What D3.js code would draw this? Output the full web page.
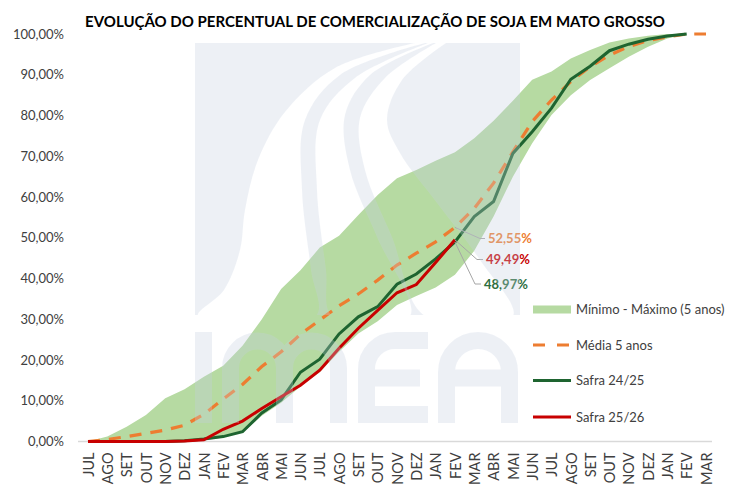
<!DOCTYPE html>
<html>
<head>
<meta charset="utf-8">
<script src="https://cdn.jsdelivr.net/npm/d3@7"></script>
<style>
  body { margin: 0; background: #fff; }
  svg { font-family: Lato, "Open Sans", sans-serif; }
</style>
</head>
<body>
<div id="chart-area"></div>
<script>
const months = ["JUL","AGO","SET","OUT","NOV","DEZ","JAN","FEV","MAR","ABR","MAI","JUN",
                "JUL","AGO","SET","OUT","NOV","DEZ","JAN","FEV","MAR","ABR","MAI","JUN",
                "JUL","AGO","SET","OUT","NOV","DEZ","JAN","FEV","MAR"];
const yTicks = [0, 10, 20, 30, 40, 50, 60, 70, 80, 90, 100];

// faixa minimo - maximo (5 anos)
const minVals = [0,0,0,0,0,0.1,0.3,1.0,2.2,6.3,9.5,13.5,17.0,22.0,26.5,29.5,33.5,35.7,37.8,40.9,
                 46.8,55.2,65.0,73.2,80.1,85.0,88.7,91.6,94.4,96.9,98.9,100];
const maxVals = [0,1.2,3.6,6.5,10.6,12.8,15.9,18.6,23.5,30.0,37.4,42.0,47.6,50.5,55.6,60.5,64.6,66.6,68.9,71.0,
                 74.4,78.7,83.6,88.8,90.8,94.0,96.1,97.9,98.9,99.6,100,100];
const media5 = [0,0.5,1.2,2.0,2.8,4.0,6.7,10.4,14.0,18.4,22.0,26.3,29.8,33.3,36.2,39.6,43.3,46.2,49.0,52.55,
                57.2,63.4,71.1,78.5,83.8,88.3,92.0,94.8,96.9,98.4,99.3,100,100];
const safra2425 = [0,0,0,0,0,0.2,0.6,1.2,2.4,7.0,10.2,17.0,20.2,26.4,30.6,33.1,38.6,41.1,44.8,48.97,
                   55.2,58.9,70.7,76.0,81.8,88.9,92.1,95.9,97.5,98.7,99.5,100];
const safra2526 = [0,0,0,0,0,0.1,0.4,3.0,5.0,8.1,11.0,13.8,17.5,22.9,27.8,32.2,36.5,38.5,43.9,49.49];

const legendNames = ["Mínimo - Máximo (5 anos)", "Média 5 anos", "Safra 24/25", "Safra 25/26"];

const cGreen = "#1e6430", cRed = "#c80000", cOrange = "#ed7d31", cBand = "#b6daa2";

const svg = d3.select("#chart-area").append("svg")
    .attr("width", 729)
    .attr("height", 485);

const x = d3.scalePoint().domain(d3.range(months.length)).range([88, 706]);
const y = d3.scaleLinear().domain([0, 100]).range([441.5, 34]);

// titulo
svg.append("text")
    .attr("x", 375).attr("y", 26.5)
    .attr("text-anchor", "middle")
    .style("font-size", "15px").style("font-weight", "bold").style("fill", "#000")
    .text("EVOLUÇÃO DO PERCENTUAL DE COMERCIALIZAÇÃO DE SOJA EM MATO GROSSO");

// eixo y
const yAxis = svg.append("g")
    .attr("transform", "translate(70,0)")
    .call(d3.axisLeft(y).tickValues(yTicks).tickSize(0).tickPadding(6)
        .tickFormat(d => d.toFixed(2).replace(".", ",") + "%"));
yAxis.select(".domain").remove();
yAxis.selectAll("text").style("font-size", "13px").style("fill", "#404040").style("font-family", "Lato");

// eixo x
const xAxis = svg.append("g")
    .attr("transform", `translate(0,${y(0)})`)
    .call(d3.axisBottom(x).tickSize(0).tickFormat(i => months[i]));
xAxis.select(".domain").remove();
xAxis.selectAll("text")
    .attr("y", 0).attr("x", -11).attr("dy", "0.36em")
    .attr("transform", "rotate(-90)")
    .style("text-anchor", "end")
    .style("font-size", "14.5px").style("fill", "#404040").style("font-family", "Lato");

svg.append("line")
    .attr("x1", 78).attr("x2", 712)
    .attr("y1", y(0)).attr("y2", y(0))
    .attr("stroke", "#d9d9d9").attr("stroke-width", 1.5);

// faixa
const area = d3.area()
    .x((d, i) => x(i))
    .y0((d, i) => y(minVals[i]))
    .y1(d => y(d));
svg.append("path")
    .datum(maxVals)
    .attr("d", area)
    .attr("fill", cBand);

const line = d3.line().x((d, i) => x(i)).y(d => y(d));

svg.append("path").datum(media5).attr("d", line)
    .attr("fill", "none").attr("stroke", cOrange).attr("stroke-width", 3.2)
    .attr("stroke-dasharray", "12,9");
svg.append("path").datum(safra2425).attr("d", line)
    .attr("fill", "none").attr("stroke", cGreen).attr("stroke-width", 3);
svg.append("path").datum(safra2526).attr("d", line)
    .attr("fill", "none").attr("stroke", cRed).attr("stroke-width", 3);

// rotulos de dados
const last = safra2526.length - 1;
const labels = [
  { v: media5[last],    color: cOrange, lx: 488, ly: 238.5, bend: [480, 238.5] },
  { v: safra2526[last], color: cRed,    lx: 486, ly: 259.5, bend: [477, 259.5] },
  { v: safra2425[last], color: "#2d6e3e", lx: 484, ly: 284,   bend: [475, 284] }
];
labels.forEach(l => {
  svg.append("polyline")
    .attr("points", `${x(last)},${y(l.v)} ${l.bend[0]},${l.bend[1]} ${l.lx - 3},${l.ly}`)
    .attr("fill", "none").attr("stroke", "#a6a6a6").attr("stroke-width", 1);
  svg.append("text")
    .attr("x", l.lx).attr("y", l.ly).attr("dy", "0.35em")
    .style("font-size", "13px").style("font-weight", "bold").style("fill", l.color)
    .text(l.v.toFixed(2).replace(".", ",") + "%");
});

// legenda
const legY = [309.5, 345, 380.5, 417];
const leg = svg.append("g");
leg.append("rect").attr("x", 533).attr("y", legY[0] - 4).attr("width", 38).attr("height", 8).attr("fill", cBand);
leg.append("line").attr("x1", 533).attr("x2", 571).attr("y1", legY[1]).attr("y2", legY[1])
    .attr("stroke", cOrange).attr("stroke-width", 3.2).attr("stroke-dasharray", "12,12");
leg.append("line").attr("x1", 533).attr("x2", 571).attr("y1", legY[2]).attr("y2", legY[2])
    .attr("stroke", cGreen).attr("stroke-width", 3);
leg.append("line").attr("x1", 533).attr("x2", 571).attr("y1", legY[3]).attr("y2", legY[3])
    .attr("stroke", cRed).attr("stroke-width", 3);
leg.selectAll("text").data(legendNames).enter().append("text")
    .attr("x", 576).attr("y", (d, i) => legY[i]).attr("dy", "0.35em")
    .style("font-size", "13px").style("fill", "#404040")
    .text(d => d);

// marca d'agua IMEA (por cima, semi transparente)
const curve = d3.line().curve(d3.curveCatmullRom);
const defs = svg.append("defs");
const mask = defs.append("mask").attr("id", "wm");
mask.append("rect").attr("x", 0).attr("y", 0).attr("width", 729).attr("height", 485).attr("fill", "#fff");
const white1 = [[415,43],[335,68],[285,112],[258,160],[245,210],[240,250],[224,290],[198,316],
                [316,316],[311,270],[302,190],[305,120],[340,75],[425,43]];
const white2 = [[428,43],[355,78],[320,120],[317,190],[326,270],[332,316],
                [410,316],[377,237],[350,170],[345,115],[370,75],[433,43]];
const white3 = [[436,43],[385,78],[360,118],[365,170],[392,237],[425,316],
                [513,316],[480,260],[437,203],[400,153],[387,120],[402,80],[446,43]];
[white1, white2, white3].forEach(p => {
  mask.append("path").attr("d", curve(p) + "Z").attr("fill", "#000");
});
const wm = svg.append("g").attr("opacity", 0.3);
wm.append("rect").attr("x", 195).attr("y", 43).attr("width", 325).attr("height", 272)
    .attr("fill", "#c6d0e1").attr("mask", "url(#wm)");
// letras "imea"
const letters = [
  "M203.5,423V332",
  "M230.5,423V368A27,27 0 0 1 284.5,368V423M284.5,368A27,27 0 0 1 338.5,368V423",
  "M428,340.5H395A28.5,28.5 0 0 0 366.5,369V414.5H428M366.5,378H420",
  "M446.5,423V372A31.5,31.5 0 0 1 509.5,372V423M446.5,378H509.5"
];
wm.selectAll("path.letter").data(letters).enter().append("path")
    .attr("class", "letter")
    .attr("d", d => d)
    .attr("fill", "none").attr("stroke", "#c6d0e1").attr("stroke-width", 17);
</script>
</body>
</html>
